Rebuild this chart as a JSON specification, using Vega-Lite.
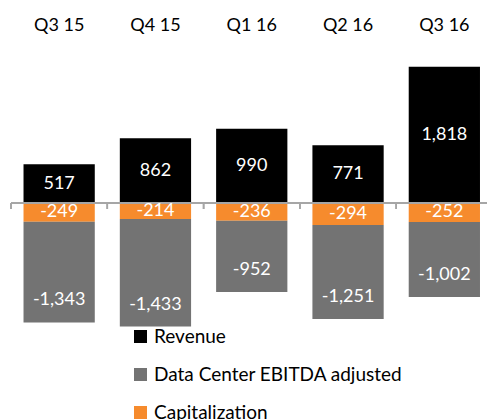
{
  "$schema": "https://vega.github.io/schema/vega-lite/v6.json",
  "width": 476,
  "height": 280,
  "autosize": {"type": "none"},
  "padding": {"left": 11, "top": 50, "right": 0, "bottom": 90},
  "background": "white",
  "config": {"view": {"stroke": null}, "font": "Lato"},
  "data": {
    "values": [
      {"quarter": "Q3 15", "series": "Revenue", "value": 517, "ord": 0, "label": "517"},
      {"quarter": "Q4 15", "series": "Revenue", "value": 862, "ord": 0, "label": "862"},
      {"quarter": "Q1 16", "series": "Revenue", "value": 990, "ord": 0, "label": "990"},
      {"quarter": "Q2 16", "series": "Revenue", "value": 771, "ord": 0, "label": "771"},
      {"quarter": "Q3 16", "series": "Revenue", "value": 1818, "ord": 0, "label": "1,818"},
      {"quarter": "Q3 15", "series": "Capitalization", "value": -249, "ord": 1, "label": "-249"},
      {"quarter": "Q4 15", "series": "Capitalization", "value": -214, "ord": 1, "label": "-214"},
      {"quarter": "Q1 16", "series": "Capitalization", "value": -236, "ord": 1, "label": "-236"},
      {"quarter": "Q2 16", "series": "Capitalization", "value": -294, "ord": 1, "label": "-294"},
      {"quarter": "Q3 16", "series": "Capitalization", "value": -252, "ord": 1, "label": "-252"},
      {"quarter": "Q3 15", "series": "Data Center EBITDA adjusted", "value": -1343, "ord": 2, "label": "-1,343"},
      {"quarter": "Q4 15", "series": "Data Center EBITDA adjusted", "value": -1433, "ord": 2, "label": "-1,433"},
      {"quarter": "Q1 16", "series": "Data Center EBITDA adjusted", "value": -952, "ord": 2, "label": "-952"},
      {"quarter": "Q2 16", "series": "Data Center EBITDA adjusted", "value": -1251, "ord": 2, "label": "-1,251"},
      {"quarter": "Q3 16", "series": "Data Center EBITDA adjusted", "value": -1002, "ord": 2, "label": "-1,002"}
    ]
  },
  "transform": [
    {"stack": "value", "groupby": ["quarter"], "sort": [{"field": "ord", "order": "ascending"}], "as": ["v0", "v1"], "offset": "zero"}
  ],
  "encoding": {
    "x": {
      "field": "quarter",
      "type": "nominal",
      "sort": ["Q3 15", "Q4 15", "Q1 16", "Q2 16", "Q3 16"],
      "scale": {"paddingInner": 0, "paddingOuter": 0, "range": [0, 481.5]},
      "axis": {
        "orient": "top",
        "title": null,
        "domain": false,
        "ticks": false,
        "labelAngle": 0,
        "labelFontSize": 18,
        "labelFont": "Lato",
        "labelColor": "#000000",
        "labelPadding": 16
      }
    }
  },
  "layer": [
    {
      "mark": {"type": "bar", "width": {"band": 0.74}},
      "encoding": {
        "y": {"field": "v0", "type": "quantitative", "scale": {"domain": [-1693, 2040], "nice": false, "zero": false}, "axis": null},
        "y2": {"field": "v1"},
        "color": {
          "field": "series",
          "type": "nominal",
          "scale": {
            "domain": ["Revenue", "Data Center EBITDA adjusted", "Capitalization"],
            "range": ["#000000", "#737373", "#F68B2D"]
          },
          "legend": {
            "title": null,
            "orient": "none",
            "legendX": 120,
            "legendY": 277,
            "symbolType": "square",
            "symbolSize": 169,
            "symbolStrokeWidth": 0,
            "symbolOpacity": 1,
            "labelFontSize": 19,
            "labelFont": "Lato",
            "labelColor": "#000000",
            "labelOffset": 4,
            "labelLimit": 400,
            "rowPadding": 18,
            "padding": 0
          }
        }
      }
    },
    {
      "mark": {"type": "rule", "color": "#A6A6A6", "strokeWidth": 1.5},
      "encoding": {"y": {"datum": 0}, "x": null}
    },
    {
      "mark": {"type": "rule", "color": "#A6A6A6", "strokeWidth": 1.5},
      "encoding": {
        "x": {"field": "quarter", "type": "nominal", "sort": ["Q3 15", "Q4 15", "Q1 16", "Q2 16", "Q3 16"], "bandPosition": 0},
        "y": {"datum": 0},
        "y2": {"datum": -80}
      }
    },
    {
      "transform": [{"filter": "datum.ord < 2"}, {"calculate": "(datum.v0 + datum.v1) / 2", "as": "mid"}],
      "mark": {"type": "text", "color": "#FFFFFF", "fontSize": 18, "font": "Lato", "baseline": "middle"},
      "encoding": {
        "y": {"field": "mid", "type": "quantitative"},
        "text": {"field": "label"}
      }
    },
    {
      "transform": [{"filter": "datum.ord == 2"}],
      "mark": {"type": "text", "color": "#FFFFFF", "fontSize": 18, "font": "Lato", "baseline": "middle", "dy": -22},
      "encoding": {
        "y": {"field": "v1", "type": "quantitative"},
        "text": {"field": "label"}
      }
    }
  ]
}
